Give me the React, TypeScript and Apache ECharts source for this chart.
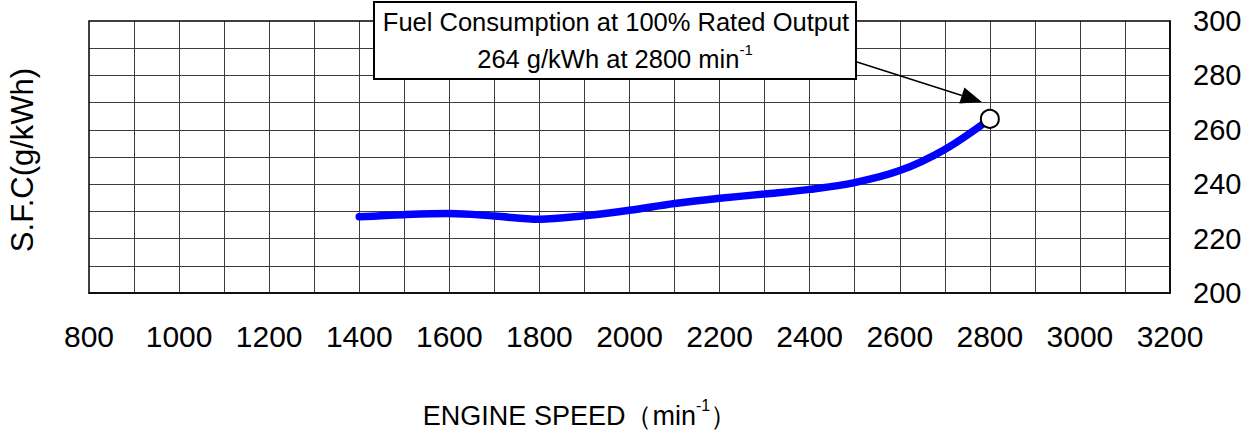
import React, { useEffect, useRef } from "react";
import * as echarts from "echarts";

const speeds = [1400, 1500, 1600, 1700, 1800, 1900, 2000, 2100, 2200, 2300, 2400, 2500, 2600, 2700, 2800];
const sfc = [228.0, 228.8, 229.2, 228.3, 227.1, 228.4, 230.4, 232.9, 234.8, 236.4, 238.1, 240.6, 245.0, 252.8, 264.0];
const ratedPoint = [2800, 264];
const xTicks = [800, 1000, 1200, 1400, 1600, 1800, 2000, 2200, 2400, 2600, 2800, 3000, 3200];
const yTicks = [200, 220, 240, 260, 280, 300];
const annotationLine1 = "Fuel Consumption at 100% Rated Output";
const annotationLine2 = "264 g/kWh at 2800 min";
const yTitle = "S.F.C(g/kWh)";
const xTitle = "ENGINE SPEED（min";

const FONT = "'Liberation Sans', Arial, Helvetica, sans-serif";

export default function App() {
  const ref = useRef<HTMLDivElement>(null);
  useEffect(() => {
    if (!ref.current) return;
    const chart = echarts.init(ref.current, null, { renderer: "svg" });
    const option: any = {
      animation: false,
      backgroundColor: "#fff",
      grid: {
        left: 89,
        right: 88,
        top: 21,
        bottom: 137,
        show: true,
        borderColor: "#000",
        borderWidth: 1.5,
        backgroundColor: "transparent",
        z: 3,
      },
      xAxis: {
        type: "value",
        min: 800,
        max: 3200,
        interval: 100,
        axisLine: { show: true, lineStyle: { color: "#000", width: 1.5 } },
        axisTick: { show: false },
        splitLine: { show: true, showMinLine: false, showMaxLine: false, lineStyle: { color: "#3c3c3c", width: 1 } },
        axisLabel: {
          margin: 28,
          fontSize: 30,
          color: "#000",
          fontFamily: FONT,
          formatter: (v: number) => (xTicks.includes(v) ? String(v) : ""),
        },
      },
      yAxis: {
        type: "value",
        position: "right",
        min: 200,
        max: 300,
        interval: 10,
        axisLine: { show: true, lineStyle: { color: "#000", width: 1.5 } },
        axisTick: { show: false },
        splitLine: { show: true, showMinLine: false, showMaxLine: false, lineStyle: { color: "#3c3c3c", width: 1 } },
        axisLabel: {
          margin: 23,
          fontSize: 29,
          color: "#000",
          fontFamily: FONT,
          formatter: (v: number) => (yTicks.includes(v) ? String(v) : ""),
        },
      },
      series: [
        {
          type: "line",
          data: speeds.map((s, i) => [s, sfc[i]]),
          smooth: 0.35,
          showSymbol: false,
          lineStyle: { color: "#0000ff", width: 7.5, cap: "round" },
          z: 4,
        },
        {
          type: "scatter",
          data: [ratedPoint],
          symbol: "circle",
          symbolSize: 18,
          itemStyle: { color: "#fff", borderColor: "#000", borderWidth: 2, opacity: 1 },
          z: 6,
        },
      ],
    };
    chart.setOption(option);

    const p = chart.convertToPixel({ gridIndex: 0 }, ratedPoint) as number[];
    const tip = [p[0] - 8, p[1] - 17];
    const start = [857, 62];
    const dx = tip[0] - start[0];
    const dy = tip[1] - start[1];
    const len = Math.sqrt(dx * dx + dy * dy);
    const ux = dx / len;
    const uy = dy / len;
    const headLen = 21;
    const headHalf = 8.5;
    const bx = tip[0] - ux * headLen;
    const by = tip[1] - uy * headLen;

    const rich = {
      a: { fontSize: 27, fontFamily: FONT, fill: "#000", lineHeight: 32, verticalAlign: "bottom" },
      s: { fontSize: 16, fontFamily: FONT, fill: "#000", lineHeight: 15, verticalAlign: "top" },
    };
    const richBox = {
      a: { fontSize: 25.5, fontFamily: FONT, fill: "#000", lineHeight: 30, verticalAlign: "bottom" },
      s: { fontSize: 15, fontFamily: FONT, fill: "#000", lineHeight: 14, verticalAlign: "top" },
    };

    chart.setOption({
      graphic: [
        {
          type: "line",
          shape: { x1: start[0], y1: start[1], x2: bx, y2: by },
          style: { stroke: "#000", lineWidth: 1.5 },
          z: 10,
        },
        {
          type: "polygon",
          shape: {
            points: [
              [tip[0], tip[1]],
              [bx - uy * headHalf, by + ux * headHalf],
              [bx + uy * headHalf, by - ux * headHalf],
            ],
          },
          style: { fill: "#000" },
          z: 10,
        },
        {
          type: "rect",
          shape: { x: 374, y: 2, width: 482, height: 77 },
          style: { fill: "#fff", stroke: "#000", lineWidth: 2 },
          z: 11,
        },
        {
          type: "text",
          x: 616,
          y: 22,
          style: {
            text: annotationLine1,
            font: `25.5px ${FONT}`,
            fill: "#000",
            align: "center",
            verticalAlign: "middle",
          },
          z: 12,
        },
        {
          type: "text",
          x: 615,
          y: 57,
          style: {
            text: `{a|${annotationLine2}}{s|-1}`,
            align: "center",
            verticalAlign: "middle",
            rich: richBox,
          },
          z: 12,
        },
        {
          type: "text",
          x: 22,
          y: 160,
          rotation: Math.PI / 2,
          style: {
            text: yTitle,
            font: `31px ${FONT}`,
            fill: "#000",
            align: "center",
            verticalAlign: "middle",
          },
          z: 12,
        },
        {
          type: "text",
          x: 580,
          y: 413,
          style: {
            text: `{a|${xTitle}}{s|-1}{a|）}`,
            align: "center",
            verticalAlign: "middle",
            rich,
          },
          z: 12,
        },
      ],
    });

    return () => chart.dispose();
  }, []);
  return (
    <div
      ref={ref}
      style={{ position: "fixed", left: 0, top: 0, width: 1258, height: 430, background: "#fff" }}
    />
  );
}
